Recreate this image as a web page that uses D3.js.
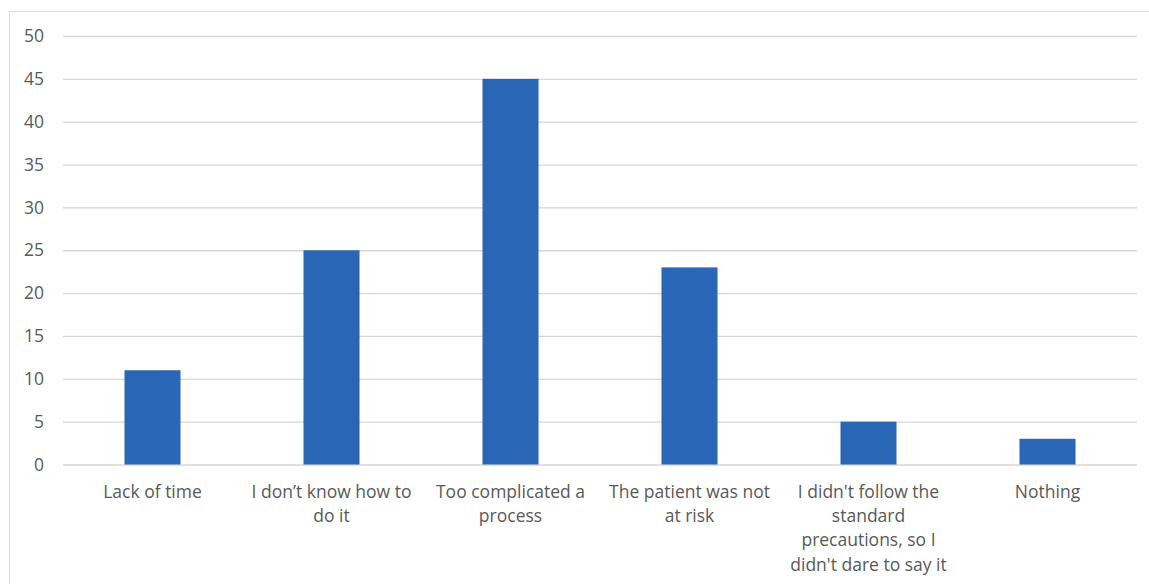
<!DOCTYPE html>
<html><head><meta charset="utf-8">
<script src="https://cdn.jsdelivr.net/npm/d3@7"></script>
<style>body{margin:0;background:#fff}svg{display:block}</style>
</head><body>
<script>
const categories = ["Lack of time","I don’t know how to do it","Too complicated a process","The patient was not at risk","I didn't follow the standard precautions, so I didn't dare to say it","Nothing"];
const labelLines = [["Lack of time"],["I don’t know how to","do it"],["Too complicated a","process"],["The patient was not","at risk"],["I didn't follow the","standard","precautions, so I","didn't dare to say it"],["Nothing"]];
const values = [11,25,45,23,5,3];
const yTicks = [0,5,10,15,20,25,30,35,40,45,50];

const W=1149,H=584;
const svg=d3.select("body").append("svg").attr("width",W).attr("height",H);
svg.append("rect").attr("width",W).attr("height",H).attr("fill","#fff");
svg.append("path").attr("d",`M9.5,${H} V11.5 H${W}`).attr("fill","none").attr("stroke","#d9d9d9").attr("stroke-width",1);

const x=d3.scaleBand().domain(categories).range([63,1137]).paddingInner(0.687).paddingOuter(0.3435);
const y=d3.scaleLinear().domain([0,50]).range([464.5,36]);
const font="'Open Sans', sans-serif";

const grid=svg.append("g").attr("transform","translate(63,0)")
  .call(d3.axisLeft(y).tickValues(yTicks).tickSize(-(1137-63)).tickPadding(19).tickFormat(d3.format("d")));
grid.select(".domain").remove();
grid.selectAll(".tick line").attr("stroke","#d9d5d2").attr("stroke-width",1.3);
grid.selectAll(".tick text").attr("fill","#595959").attr("font-size","17.5px").attr("font-family",font);

svg.append("g").selectAll("rect").data(values).join("rect")
  .attr("x",(d,i)=>x(categories[i])).attr("width",x.bandwidth())
  .attr("y",d=>y(d)).attr("height",d=>y(0)-y(d)).attr("fill","#2a66b6");

const xa=svg.append("g").attr("transform",`translate(0,${y(0)})`)
  .call(d3.axisBottom(x).tickSize(0).tickFormat(""));
xa.select(".domain").remove();
xa.selectAll(".tick").each(function(d,i){
  const t=d3.select(this).append("text").attr("fill","#595959").attr("font-size","17.5px")
    .attr("font-family",font).attr("text-anchor","middle");
  labelLines[i].forEach((ln,j)=>t.append("tspan").attr("x",0).attr("y",33.5+j*24.2).text(ln));
});
</script>
</body></html>
